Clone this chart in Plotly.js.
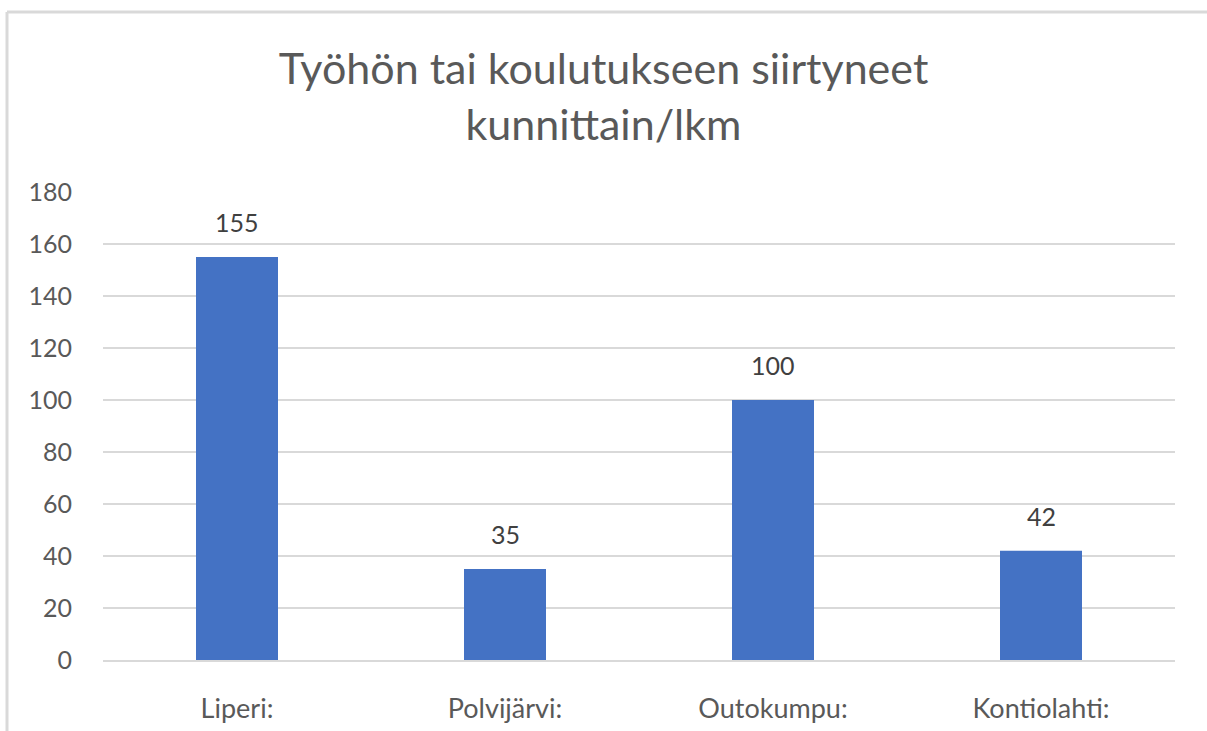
<!DOCTYPE html>
<html>
<head>
    <meta charset="utf-8">
    <title>Työhön tai koulutukseen siirtyneet</title>
    <script src="https://cdn.plot.ly/plotly-3.0.1.min.js"></script>
    <style>
        html, body { margin: 0; padding: 0; background: #fff; }
        #chart { width: 1207px; height: 731px; }
    </style>
</head>
<body>
    <div id="chart"></div>
    <script>
        // kunnat ja henkilömäärät
        const kunnat = ["Liperi:", "Polvijärvi:", "Outokumpu:", "Kontiolahti:"];
        const lkm = [155, 35, 100, 42];
        const yTicks = [0, 20, 40, 60, 80, 100, 120, 140, 160, 180];

        const fontti = "Lato, 'Open Sans', sans-serif";

        const trace = {
            x: kunnat,
            y: lkm,
            type: "bar",
            width: 0.306,
            marker: { color: "#4472C4" },
            hoverinfo: "x+y"
        };

        // arvot pylväiden yläpuolelle
        const arvot = kunnat.map((k, i) => ({
            x: k,
            y: lkm[i],
            text: String(lkm[i]),
            showarrow: false,
            yanchor: "bottom",
            yshift: 18,
            font: { family: fontti, size: 25, color: "#404040" }
        }));

        const layout = {
            width: 1207,
            height: 731,
            margin: { l: 103, r: 32, t: 192, b: 71 },
            paper_bgcolor: "#ffffff",
            plot_bgcolor: "#ffffff",
            showlegend: false,
            title: {
                text: "Työhön tai koulutukseen siirtyneet<br>kunnittain/lkm",
                font: { family: fontti, size: 43, color: "#595959" },
                x: 0.5,
                xanchor: "center",
                y: 0.885,
                yanchor: "top"
            },
            xaxis: {
                type: "category",
                showgrid: false,
                showline: true,
                linecolor: "#d9d9d9",
                linewidth: 2,
                ticks: "",
                ticklabelstandoff: 24,
                tickfont: { family: fontti, size: 27, color: "#595959" }
            },
            yaxis: {
                range: [0, 180],
                tickvals: yTicks,
                showgrid: true,
                gridcolor: "#d9d9d9",
                gridwidth: 2,
                zeroline: false,
                showline: false,
                ticks: "",
                ticklabelstandoff: 30,
                tickfont: { family: fontti, size: 25, color: "#595959" }
            },
            annotations: arvot,
            shapes: [
                // kaavion reunaviivat
                { type: "line", xref: "paper", yref: "paper", x0: -96 / 1072, x1: 1.2, y0: 1 + 180 / 468, y1: 1 + 180 / 468, line: { color: "#d9d9d9", width: 3 } },
                { type: "line", xref: "paper", yref: "paper", x0: -96 / 1072, x1: -96 / 1072, y0: -0.2, y1: 1 + 180 / 468, line: { color: "#d9d9d9", width: 3 } }
            ]
        };

        Plotly.newPlot("chart", [trace], layout, { displayModeBar: false, staticPlot: true });
    </script>
</body>
</html>
